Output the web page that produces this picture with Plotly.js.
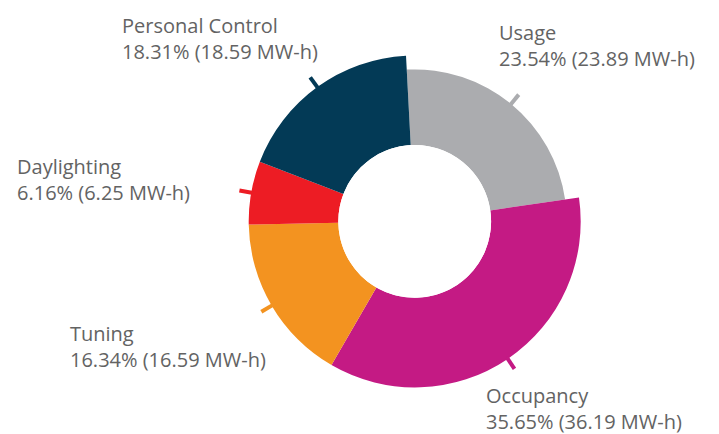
<!DOCTYPE html>
<html>
<head>
<meta charset="utf-8">
<script src="https://cdn.plot.ly/plotly-3.0.1.min.js"></script>
<style>html,body{margin:0;padding:0;background:#fff;}#chart{width:719px;height:434px;}</style>
</head>
<body>
<div id="chart"></div>
<script>
// ---- data ----
const categories = ["Usage", "Occupancy", "Tuning", "Daylighting", "Personal Control"];
const percents   = [23.54, 35.65, 16.34, 6.16, 18.31];
const energyMWh  = [23.89, 36.19, 16.59, 6.25, 18.59];

// ---- style ----
const colors = {
  "Usage": "#ABACAF",
  "Occupancy": "#C41A84",
  "Tuning": "#F39320",
  "Daylighting": "#ED1C24",
  "Personal Control": "#033A56"
};
const W = 719, H = 434;
const cx = 414.7, cy = 221.4;          // chart centre (px)
const holePx = 76.4, framePx = 182;    // hole radius, polar frame radius
const outerPx = {"Usage": 152};        // slice outer radius overrides
const defaultOuterPx = 166;
const tickLen = 12;
const startAngle = -3;                 // clockwise degrees from 12 o'clock
const textColor = "#636363";
const fontSize = 20;
const labelPos = {                      // left x, baseline 1, baseline 2 (px)
  "Usage": [497, 40, 65.5],
  "Personal Control": [120, 32.7, 58.3],
  "Daylighting": [15, 174, 199.5],
  "Tuning": [68, 341, 366],
  "Occupancy": [484, 403, 428.5]
};

const rangeMax = framePx - holePx;
const toR = px => px - holePx;

const total = percents.reduce((a, b) => a + b, 0);
let cum = 0;
const thetas = [], widths = [], rs = [];
percents.forEach((p, i) => {
  const w = p / total * 360;
  thetas.push(startAngle + cum + w / 2);
  widths.push(w);
  cum += w;
  rs.push(toR(outerPx[categories[i]] || defaultOuterPx));
});

const traces = [{
  type: "barpolar",
  r: rs,
  theta: thetas,
  width: widths,
  marker: {color: categories.map(c => colors[c]), line: {width: 0}},
  hoverinfo: "skip",
  showlegend: false
}];

categories.forEach((c, i) => {
  const o = rs[i];
  traces.push({
    type: "scatterpolar",
    mode: "lines",
    r: [o - 2, o + tickLen],
    theta: [thetas[i], thetas[i]],
    line: {color: colors[c], width: 4},
    hoverinfo: "skip",
    showlegend: false
  });
});

const annotations = categories.map((c, i) => {
  const [x, b1, b2] = labelPos[c];
  return {
    xref: "paper", yref: "paper",
    x: x / W, y: 1 - ((b1 + b2) / 2 - 7) / H,
    xanchor: "left", yanchor: "middle", align: "left",
    text: c + "<br>" + percents[i].toFixed(2) + "% (" + energyMWh[i].toFixed(2) + " MW-h)",
    showarrow: false,
    font: {family: "Open Sans", size: fontSize, color: textColor}
  };
});

const layout = {
  width: W, height: H,
  margin: {l: 0, r: 0, t: 0, b: 0},
  paper_bgcolor: "#fff",
  showlegend: false,
  polar: {
    domain: {
      x: [(cx - framePx) / W, (cx + framePx) / W],
      y: [1 - (cy + framePx) / H, 1 - (cy - framePx) / H]
    },
    hole: holePx / framePx,
    bgcolor: "rgba(0,0,0,0)",
    radialaxis: {visible: false, range: [0, rangeMax]},
    angularaxis: {
      rotation: 90, direction: "clockwise",
      showline: false, showgrid: false, showticklabels: false, ticks: ""
    }
  },
  annotations: annotations
};

Plotly.newPlot("chart", traces, layout, {displayModeBar: false, staticPlot: true});
</script>
</body>
</html>
